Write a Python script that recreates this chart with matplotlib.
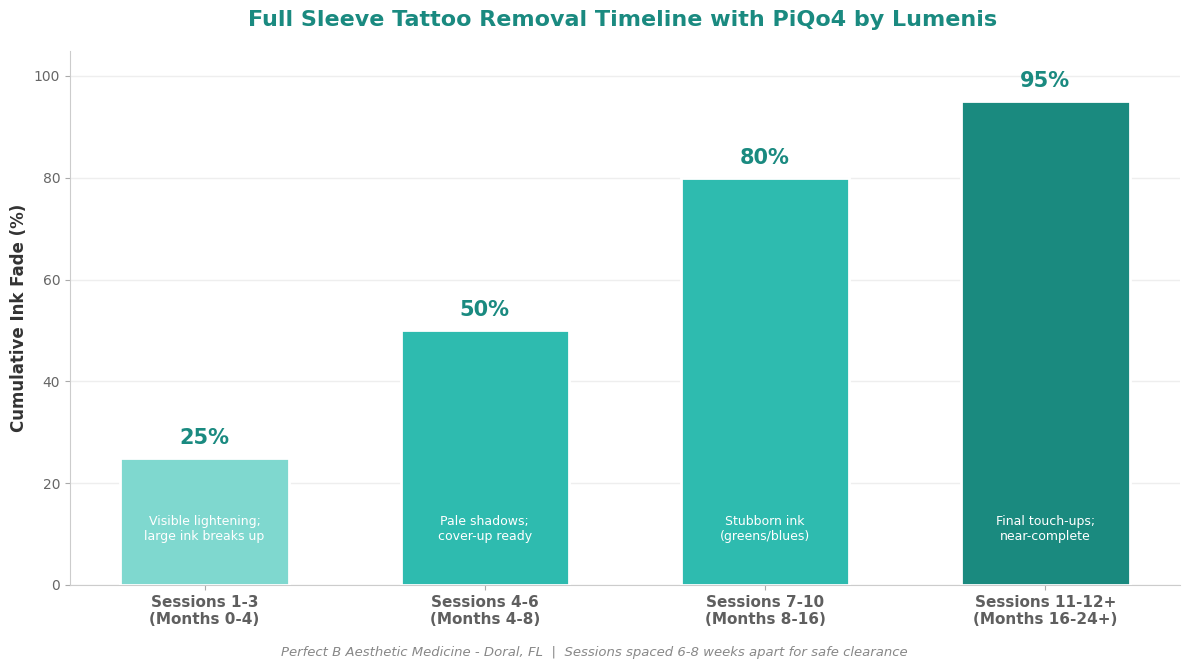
import matplotlib.pyplot as plt

stages = ["Sessions 1-3\n(Months 0-4)", "Sessions 4-6\n(Months 4-8)",
          "Sessions 7-10\n(Months 8-16)", "Sessions 11-12+\n(Months 16-24+)"]
fade = [25, 50, 80, 95]
notes = ["Visible lightening;\nlarge ink breaks up", "Pale shadows;\ncover-up ready",
         "Stubborn ink\n(greens/blues)", "Final touch-ups;\nnear-complete"]
colors = ["#7fd8cf", "#2ebbaf", "#2ebbaf", "#1a8a7f"]

fig = plt.figure(figsize=(11.89, 6.69), dpi=100)
ax = fig.add_axes([0.0589, 0.1256, 0.9335, 0.7989])

x = range(len(stages))
bars = ax.bar(x, fade, width=0.6, color=colors, edgecolor="white", linewidth=2, zorder=3)

for b, v, n in zip(bars, fade, notes):
    cx = b.get_x() + b.get_width() / 2
    ax.text(cx, v + 2, f"{v}%", ha="center", va="bottom", fontsize=15,
            fontweight="bold", color="#1a8a80")
    ax.text(cx, 11, n, ha="center", va="center", fontsize=9, color="white", zorder=4)

ax.set_ylim(0, 105)
ax.set_xticks(list(x))
ax.set_xticklabels(stages, fontsize=11, fontweight="bold", color="#5f5f5f")
ax.tick_params(axis="y", labelsize=10, colors="#666666")
ax.tick_params(axis="y", color="#aaaaaa")
ax.tick_params(axis="x", colors="#aaaaaa", labelcolor="#5f5f5f")
ax.set_ylabel("Cumulative Ink Fade (%)", fontsize=12, fontweight="bold", color="#333333")
ax.grid(axis="y", color="#eeeeee", linewidth=1, zorder=0)
ax.spines["top"].set_visible(False)
ax.spines["right"].set_visible(False)
ax.spines["left"].set_color("#cccccc")
ax.spines["bottom"].set_color("#cccccc")

fig.text(0.524, 0.97, "Full Sleeve Tattoo Removal Timeline with PiQo4 by Lumenis",
         ha="center", va="center", fontsize=16, fontweight="bold", color="#1a8a80")
fig.text(0.5, 0.025, "Perfect B Aesthetic Medicine - Doral, FL  |  Sessions spaced 6-8 weeks apart for safe clearance",
         ha="center", va="center", fontsize=9.5, style="italic", color="#888888")

fig.savefig("out.png", dpi=100)
